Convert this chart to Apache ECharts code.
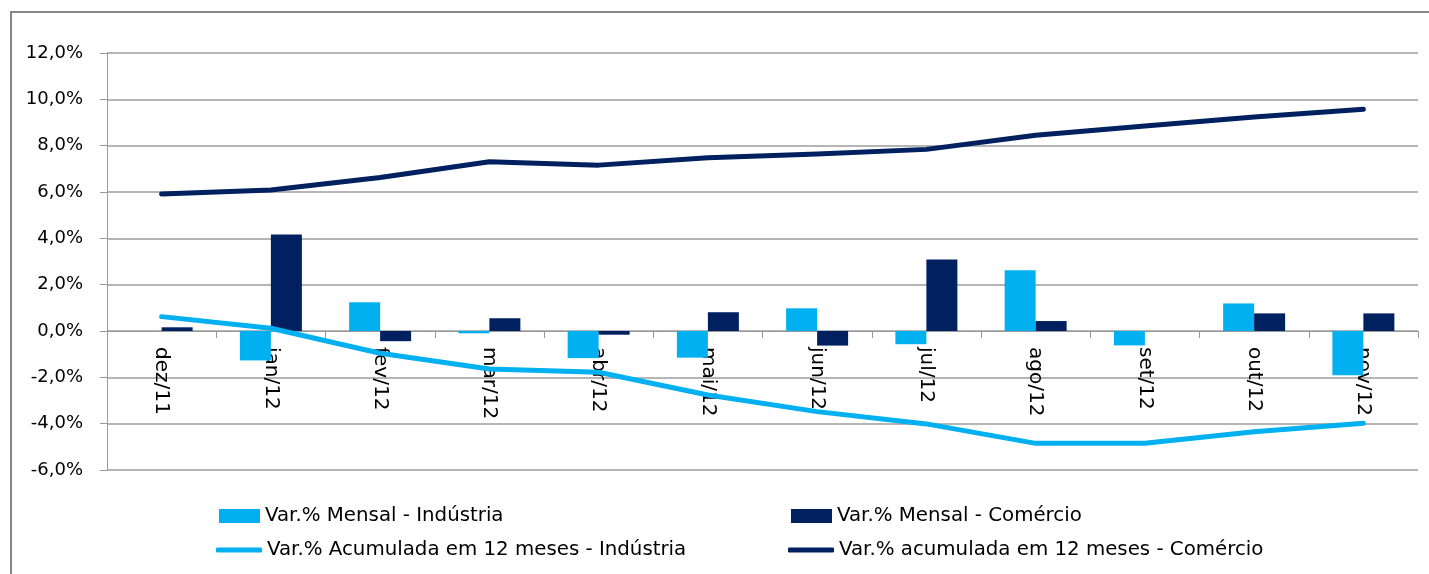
<!DOCTYPE html>
<html>
<head>
<meta charset="utf-8">
<script src="https://cdn.jsdelivr.net/npm/echarts@6/dist/echarts.min.js"></script>
<style>
html,body{margin:0;padding:0;background:#fff;}
#chart{width:1429px;height:574px;}
</style>
</head>
<body>
<div id="chart"></div>
<script>
const categories = ['dez/11','jan/12','fev/12','mar/12','abr/12','mai/12','jun/12','jul/12','ago/12','set/12','out/12','nov/12'];
const mensalIndustria = [0, -1.27, 1.24, -0.1, -1.17, -1.15, 0.98, -0.57, 2.62, -0.62, 1.19, -1.91];
const mensalComercio = [0.16, 4.17, -0.44, 0.55, -0.16, 0.81, -0.63, 3.09, 0.43, 0, 0.76, 0.76];
const acumIndustria = [0.62, 0.12, -0.96, -1.64, -1.78, -2.76, -3.48, -4.01, -4.85, -4.85, -4.35, -3.98];
const acumComercio = [5.91, 6.09, 6.63, 7.31, 7.16, 7.48, 7.64, 7.84, 8.45, 8.85, 9.24, 9.57];
const seriesNames = ['Var.% Mensal - Indústria','Var.% Mensal - Comércio','Var.% Acumulada em 12 meses - Indústria','Var.% acumulada em 12 meses - Comércio'];

const LIGHT = '#00B0F0';
const DARK = '#002060';
const FONT = 'DejaVu Sans';

const Y_MIN = -6, Y_MAX = 12;
const GRID = {left:107, right:11, top:53, bottom:104};
const plotH = 574 - GRID.top - GRID.bottom;
const zeroOffset = plotH * (0 - Y_MIN) / (Y_MAX - Y_MIN);

const chart = echarts.init(document.getElementById('chart'), null, {renderer:'canvas'});
const legendText = {fontFamily: FONT, fontSize: 19.8, color: '#000'};
function lg(name, left, top, icon, w, h) {
  return {data:[name], left:left, top:top, padding:0, icon:icon, itemWidth:w, itemHeight:h, textStyle:legendText, selectedMode:false};
}
chart.setOption({
  animation:false,
  graphic:[{type:'rect', shape:{x:11,y:12,width:1450,height:620}, style:{fill:'none', stroke:'#868686', lineWidth:2}, silent:true}],
  grid:GRID,
  legend:[
    lg(seriesNames[0], 219, 506, 'rect', 41, 14),
    lg(seriesNames[1], 791, 506, 'rect', 41, 14),
    lg(seriesNames[2], 216, 540, 'roundRect', 46, 5),
    lg(seriesNames[3], 788, 540, 'roundRect', 46, 5)
  ],
  xAxis:{
    type:'category', data:categories, position:'bottom', offset:-zeroOffset,
    axisLine:{onZero:false, lineStyle:{color:'#999', width:1}},
    axisTick:{show:true, length:7, lineStyle:{color:'#999'}},
    axisLabel:{rotate:-90, margin:16, fontFamily:FONT, fontSize:20, color:'#000'},
    splitLine:{show:false}
  },
  yAxis:{
    type:'value', min:Y_MIN, max:Y_MAX, interval:2,
    axisLine:{show:true, lineStyle:{color:'#999', width:1}},
    axisTick:{show:true, length:7, lineStyle:{color:'#999'}},
    axisLabel:{margin:24, fontFamily:FONT, fontSize:18, color:'#000', formatter:v=>v.toFixed(1).replace('.',',')+'%'},
    splitLine:{lineStyle:{color:'#b5b5b5', width:2}}
  },
  series:[
    {name:seriesNames[0], type:'bar', data:mensalIndustria, barWidth:31, barGap:'0%', itemStyle:{color:LIGHT}},
    {name:seriesNames[1], type:'bar', data:mensalComercio, barWidth:31, barGap:'0%', itemStyle:{color:DARK}},
    {name:seriesNames[2], type:'line', data:acumIndustria, showSymbol:false, symbol:'none', lineStyle:{color:LIGHT, width:5, cap:'round', join:'round'}, itemStyle:{color:LIGHT}},
    {name:seriesNames[3], type:'line', data:acumComercio, showSymbol:false, symbol:'none', lineStyle:{color:DARK, width:5, cap:'round', join:'round'}, itemStyle:{color:DARK}}
  ]
});
</script>
</body>
</html>
